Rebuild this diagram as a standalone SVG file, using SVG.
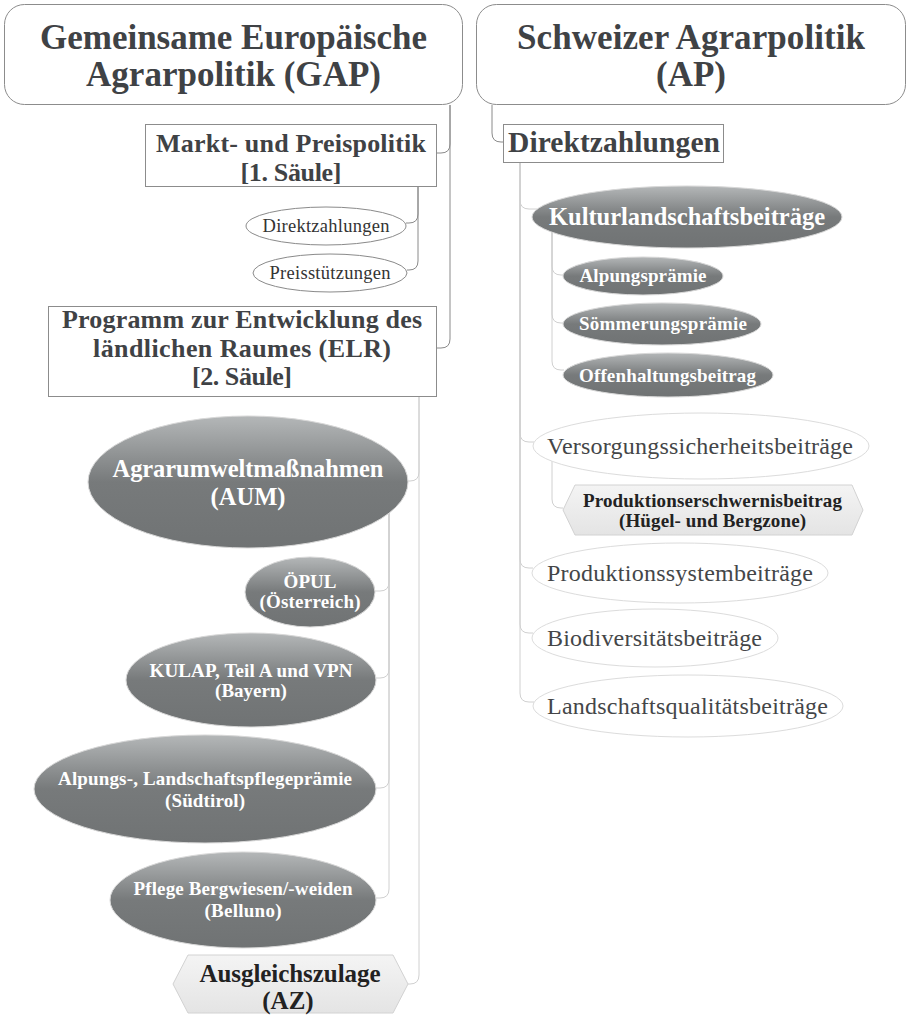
<svg xmlns="http://www.w3.org/2000/svg" width="907" height="1016" viewBox="0 0 907 1016">
<defs>
<linearGradient id="dark" x1="0" y1="0" x2="0" y2="1">
<stop offset="0" stop-color="#b4b7b8"/>
<stop offset="0.5" stop-color="#777a7b"/>
<stop offset="1" stop-color="#707374"/>
</linearGradient>
<linearGradient id="hex" x1="0" y1="0" x2="0" y2="1">
<stop offset="0" stop-color="#f4f4f4"/>
<stop offset="1" stop-color="#e4e4e4"/>
</linearGradient>
<style>
.title{font-family:"Liberation Serif","Times New Roman",serif;font-weight:bold;font-size:35px;fill:#3f4245;text-anchor:middle}
.sub{font-family:"Liberation Serif","Times New Roman",serif;font-weight:bold;font-size:26px;fill:#3f4245;text-anchor:middle}
.dz{font-family:"Liberation Serif","Times New Roman",serif;font-weight:bold;font-size:29.5px;fill:#3f4245;text-anchor:middle}
.wbig{font-family:"Liberation Serif","Times New Roman",serif;font-weight:bold;font-size:24.5px;fill:#ffffff;text-anchor:middle}
.wsm{font-family:"Liberation Serif","Times New Roman",serif;font-weight:bold;font-size:19px;fill:#ffffff;text-anchor:middle}
.reg{font-family:"Liberation Serif","Times New Roman",serif;font-size:24px;fill:#444648;text-anchor:middle}
.regsm{font-family:"Liberation Serif","Times New Roman",serif;font-size:18.5px;fill:#333333;text-anchor:middle}
.hexbig{font-family:"Liberation Serif","Times New Roman",serif;font-weight:bold;font-size:25px;fill:#222222;text-anchor:middle}
.hexsm{font-family:"Liberation Serif","Times New Roman",serif;font-weight:bold;font-size:19px;fill:#222222;text-anchor:middle}
.rbox{fill:#ffffff;stroke:#8c8c8c;stroke-width:1}
.box{fill:#ffffff;stroke:#8c8c8c;stroke-width:1}
.de{fill:url(#dark);stroke:#d8d8d8;stroke-width:1}
.we{fill:#ffffff;stroke:#dcdcdc;stroke-width:1}
.le{fill:#ffffff;stroke:#8a8a8a;stroke-width:1}
.hx{fill:url(#hex);stroke:#d2d2d2;stroke-width:1}
.cd{fill:none;stroke:#8a8a8a;stroke-width:1}
.cl{fill:none;stroke:#d0d0d0;stroke-width:1}
</style>
</defs>

<g id="connectors">
<path class="cd" d="M450,105 V144 Q450,153 441,153 H437"/>
<path class="cd" d="M450,105 V339 Q450,348 441,348 H437"/>
<path class="cd" d="M418,187 V214 Q418,223 409,223 H406"/>
<path class="cd" d="M418,187 V261 Q418,270 409,270 H407"/>
<path class="cl" d="M419,397 V472 Q419,481 410,481 H408"/>
<path class="cl" d="M419,397 V975 Q419,984 410,984 H408"/>
<path class="cl" d="M389,513 V582 Q389,591 380,591 H375"/>
<path class="cl" d="M389,513 V669 Q389,678 380,678 H376"/>
<path class="cl" d="M389,513 V779 Q389,788 380,788 H376"/>
<path class="cl" d="M389,513 V889 Q389,898 380,898 H376"/>
<path class="cd" d="M492,105 V133 Q492,142 501,142 H503"/>
<path class="cl" d="M520,163 V200 Q520,209 529,209 H537"/>
<path class="cl" d="M520,163 V433 Q520,442 529,442 H534"/>
<path class="cl" d="M520,163 V559 Q520,568 529,568 H533"/>
<path class="cl" d="M520,163 V624 Q520,633 529,633 H533"/>
<path class="cl" d="M520,163 V693 Q520,702 529,702 H534"/>
<path class="cl" d="M552,232 V266 Q552,275 561,275 H564"/>
<path class="cl" d="M552,232 V314 Q552,323 561,323 H564"/>
<path class="cl" d="M552,232 V361 Q552,370 561,370 H564"/>
<path class="cl" d="M552,461 V499 Q552,508 561,508 H563"/>
</g>

<g id="gap">
<rect class="rbox" x="4.5" y="4.5" width="458" height="100" rx="20"/>
<text class="title" x="233.5" y="49" textLength="387" lengthAdjust="spacing">Gemeinsame Europäische</text>
<text class="title" x="233.5" y="86" textLength="295" lengthAdjust="spacing">Agrarpolitik (GAP)</text>
</g>

<g id="ap">
<rect class="rbox" x="476.5" y="4.5" width="429" height="100" rx="20"/>
<text class="title" x="691" y="49" textLength="348" lengthAdjust="spacing">Schweizer Agrarpolitik</text>
<text class="title" x="691" y="86" textLength="70" lengthAdjust="spacing">(AP)</text>
</g>

<g id="markt">
<rect class="box" x="145.5" y="124.5" width="291" height="62"/>
<text class="sub" x="291" y="152" textLength="270" lengthAdjust="spacing">Markt- und Preispolitik</text>
<text class="sub" x="291" y="181" textLength="101" lengthAdjust="spacing">[1. Säule]</text>
</g>

<g id="gap-direktzahlungen">
<ellipse class="le" cx="326" cy="226" rx="80" ry="19"/>
<text class="regsm" x="326" y="232" textLength="127" lengthAdjust="spacing">Direktzahlungen</text>
</g>

<g id="preisstuetzungen">
<ellipse class="le" cx="330" cy="273" rx="77" ry="19"/>
<text class="regsm" x="330" y="279" textLength="121" lengthAdjust="spacing">Preisstützungen</text>
</g>

<g id="elr">
<rect class="box" x="48.5" y="306.5" width="388" height="90"/>
<text class="sub" x="242" y="328" textLength="360" lengthAdjust="spacing">Programm zur Entwicklung des</text>
<text class="sub" x="242" y="357" textLength="298" lengthAdjust="spacing">ländlichen Raumes (ELR)</text>
<text class="sub" x="242" y="385" textLength="100" lengthAdjust="spacing">[2. Säule]</text>
</g>

<g id="aum">
<ellipse class="de" cx="248" cy="482" rx="160" ry="66"/>
<text class="wbig" x="248" y="477" textLength="271" lengthAdjust="spacing">Agrarumweltmaßnahmen</text>
<text class="wbig" x="248" y="505" textLength="75" lengthAdjust="spacing">(AUM)</text>
</g>

<g id="oepul">
<ellipse class="de" cx="310" cy="592" rx="65" ry="35"/>
<text class="wsm" x="310" y="588">ÖPUL</text>
<text class="wsm" x="310" y="608" textLength="101" lengthAdjust="spacing">(Österreich)</text>
</g>

<g id="kulap">
<ellipse class="de" cx="251" cy="680" rx="125" ry="47"/>
<text class="wsm" x="251" y="677" textLength="203" lengthAdjust="spacing">KULAP, Teil A und VPN</text>
<text class="wsm" x="251" y="697">(Bayern)</text>
</g>

<g id="suedtirol">
<ellipse class="de" cx="205" cy="789" rx="171" ry="54"/>
<text class="wsm" x="205" y="785" textLength="294" lengthAdjust="spacing">Alpungs-, Landschaftspflegeprämie</text>
<text class="wsm" x="205" y="807" textLength="80" lengthAdjust="spacing">(Südtirol)</text>
</g>

<g id="belluno">
<ellipse class="de" cx="243" cy="900" rx="133" ry="48"/>
<text class="wsm" x="243" y="895" textLength="219" lengthAdjust="spacing">Pflege Bergwiesen/-weiden</text>
<text class="wsm" x="243" y="917" textLength="77" lengthAdjust="spacing">(Belluno)</text>
</g>

<g id="az">
<polygon class="hx" points="173,984 188,955 393,955 408,984 393,1013 188,1013"/>
<text class="hexbig" x="290" y="982" textLength="181" lengthAdjust="spacing">Ausgleichszulage</text>
<text class="hexbig" x="288" y="1009">(AZ)</text>
</g>

<g id="ch-direktzahlungen">
<rect class="box" x="503.5" y="124.5" width="220" height="38"/>
<text class="dz" x="614" y="152" textLength="212" lengthAdjust="spacing">Direktzahlungen</text>
</g>

<g id="kulturlandschaft">
<ellipse class="de" cx="687" cy="217" rx="155" ry="31"/>
<text class="wbig" x="687" y="225" textLength="276" lengthAdjust="spacing">Kulturlandschaftsbeiträge</text>
</g>

<g id="alpungspraemie">
<ellipse class="de" cx="643" cy="276" rx="80" ry="19"/>
<text class="wsm" x="643" y="282" textLength="127" lengthAdjust="spacing">Alpungsprämie</text>
</g>

<g id="soemmerung">
<ellipse class="de" cx="662" cy="324" rx="99" ry="21"/>
<text class="wsm" x="663" y="330" textLength="168" lengthAdjust="spacing">Sömmerungsprämie</text>
</g>

<g id="offenhaltung">
<ellipse class="de" cx="668" cy="375" rx="105" ry="22"/>
<text class="wsm" x="667.5" y="382" textLength="177" lengthAdjust="spacing">Offenhaltungsbeitrag</text>
</g>

<g id="versorgung">
<ellipse class="we" cx="701" cy="446" rx="168" ry="33"/>
<text class="reg" x="700" y="454" textLength="306" lengthAdjust="spacing">Versorgungssicherheitsbeiträge</text>
</g>

<g id="produktionserschwernis">
<polygon class="hx" points="563,510 575,485 852,485 863,510 852,535 575,535"/>
<text class="hexsm" x="712.5" y="507" textLength="259" lengthAdjust="spacing">Produktionserschwernisbeitrag</text>
<text class="hexsm" x="712.5" y="527" textLength="187" lengthAdjust="spacing">(Hügel- und Bergzone)</text>
</g>

<g id="produktionssystem">
<ellipse class="we" cx="680" cy="573" rx="148" ry="30"/>
<text class="reg" x="680" y="581" textLength="266" lengthAdjust="spacing">Produktionssystembeiträge</text>
</g>

<g id="biodiversitaet">
<ellipse class="we" cx="655" cy="638" rx="123" ry="29"/>
<text class="reg" x="654.5" y="646" textLength="215" lengthAdjust="spacing">Biodiversitätsbeiträge</text>
</g>

<g id="landschaftsqualitaet">
<ellipse class="we" cx="688" cy="706" rx="155" ry="31"/>
<text class="reg" x="687.5" y="714" textLength="281" lengthAdjust="spacing">Landschaftsqualitätsbeiträge</text>
</g>
</svg>
